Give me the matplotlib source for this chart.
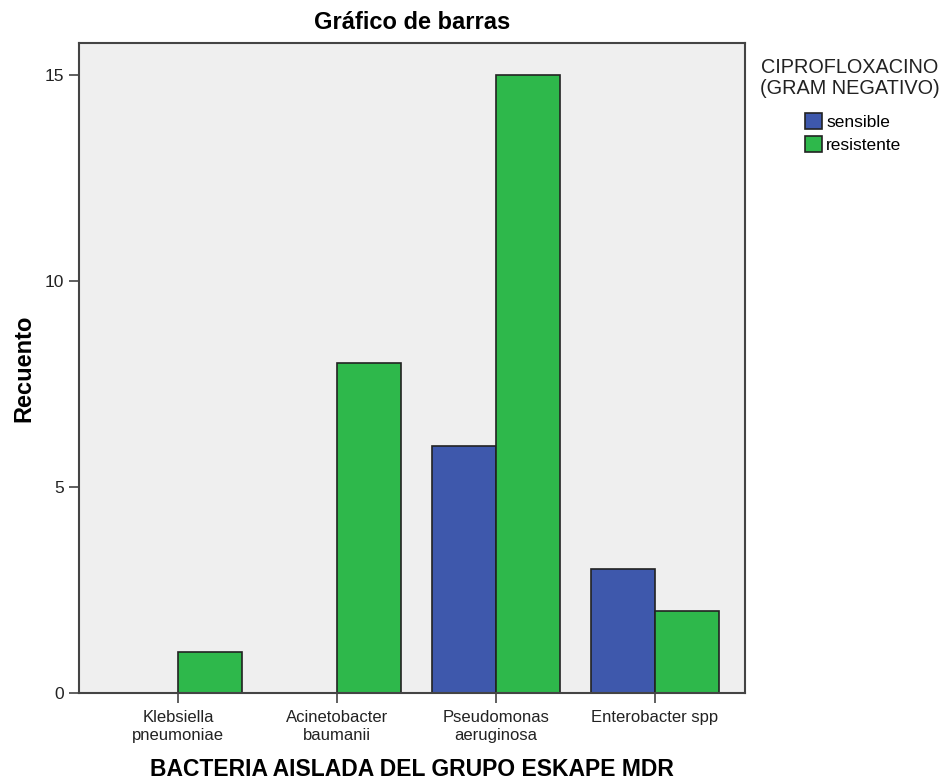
import numpy as np
from matplotlib import pyplot as plt
from matplotlib.patches import Patch

plt.rcParams['font.family'] = ['Liberation Sans', 'DejaVu Sans']

categories = ['Klebsiella\npneumoniae', 'Acinetobacter\nbaumanii',
              'Pseudomonas\naeruginosa', 'Enterobacter spp']
sensible = [0, 0, 6, 3]
resistente = [1, 8, 15, 2]

blue = '#3E58AC'
green = '#2EB84B'

fig = plt.figure(figsize=(9.53, 7.82), dpi=100)
ax = fig.add_axes([0.0829, 0.1138, 0.6988, 0.8312])
ax.set_facecolor('#EFEFEF')

x = np.arange(len(categories))
w = 0.4
ax.bar(x - w / 2, sensible, w, color=blue, edgecolor='#222222', linewidth=1.2)
ax.bar(x + w / 2, resistente, w, color=green, edgecolor='#222222', linewidth=1.2)

ax.set_xlim(-0.623, 3.566)
ax.set_ylim(0, 15.78)
ax.set_xticks(x)
ax.set_xticklabels(categories, fontsize=12, color='#222222', linespacing=1.2)
ax.set_yticks([0, 5, 10, 15])
ax.set_yticklabels(['0', '5', '10', '15'], fontsize=12.5, color='#222222')
ax.tick_params(direction='out', length=7.5, width=1.2, color='#444444', pad=3)
ax.tick_params(axis='x', pad=5)
for s in ax.spines.values():
    s.set_color('#444444')
    s.set_linewidth(1.5)

ax.set_title('Gráfico de barras', fontsize=17, fontweight='bold', pad=10)
ax.set_xlabel('BACTERIA AISLADA DEL GRUPO ESKAPE MDR', fontsize=16.5,
              fontweight='bold', va='center')
ax.xaxis.set_label_coords(0.5, -0.117)
ax.set_ylabel('Recuento', fontsize=17, fontweight='bold', va='center')
ax.yaxis.set_label_coords(-0.083, 0.5)

handles = [Patch(facecolor=blue, edgecolor='#222222', linewidth=1.2, label='sensible'),
           Patch(facecolor=green, edgecolor='#222222', linewidth=1.2, label='resistente')]
fig.text(0.892, 0.900, 'CIPROFLOXACINO\n(GRAM NEGATIVO)', ha='center',
         va='center', fontsize=14.3, linespacing=1.1, color='#222222')
fig.legend(handles=handles, loc='upper left', bbox_to_anchor=(0.845, 0.856),
           frameon=False, fontsize=12.5, handlelength=0.95, handleheight=1.05,
           handletextpad=0.25, labelspacing=0.35, borderaxespad=0, borderpad=0)

fig.savefig('out.png', dpi=100)
